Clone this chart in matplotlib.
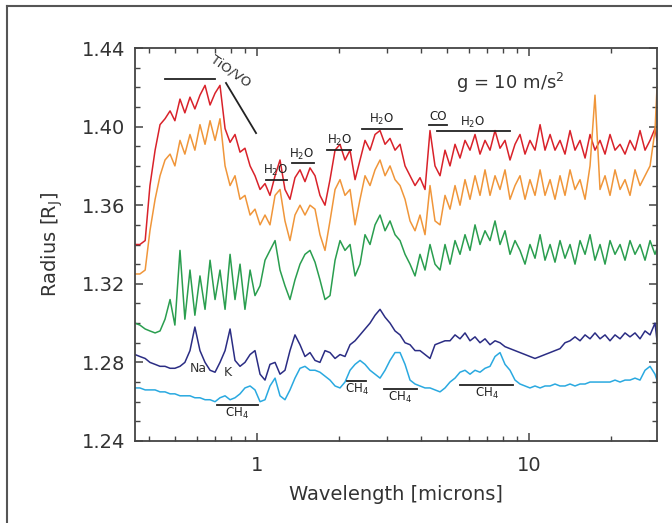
import matplotlib
matplotlib.use('Agg')
import matplotlib.pyplot as plt
from matplotlib.ticker import LogLocator, FixedLocator, NullFormatter, FormatStrFormatter
from matplotlib.lines import Line2D

# wavelength grid in microns (shared by all spectra)
wavelength = [
    0.356, 0.371, 0.388, 0.404, 0.422, 0.440, 0.459, 0.479, 0.499, 0.521,
    0.543, 0.567, 0.591, 0.617, 0.644, 0.672, 0.701, 0.731, 0.763, 0.796,
    0.830, 0.866, 0.903, 0.943, 0.983, 1.026, 1.070, 1.116, 1.165, 1.215,
    1.267, 1.322, 1.379, 1.439, 1.501, 1.566, 1.634, 1.704, 1.778, 1.855,
    1.936, 2.019, 2.106, 2.198, 2.293, 2.392, 2.495, 2.603, 2.716, 2.833,
    2.956, 3.083, 3.217, 3.356, 3.501, 3.652, 3.810, 3.974, 4.146, 4.325,
    4.512, 4.708, 4.911, 5.123, 5.345, 5.576, 5.817, 6.068, 6.331, 6.604,
    6.890, 7.188, 7.499, 7.823, 8.161, 8.514, 8.882, 9.266, 9.667, 10.08,
    10.52, 10.98, 11.45, 11.95, 12.46, 13.00, 13.56, 14.15, 14.76, 15.40,
    16.07, 16.76, 17.48, 18.24, 19.03, 19.85, 20.71, 21.61, 22.54, 23.51,
    24.53, 25.59, 26.70, 27.86, 29.05, 29.55,
]

# radius in Jupiter radii, one list per model
r_red = [
    1.340, 1.340, 1.342, 1.370, 1.388, 1.401, 1.404, 1.408, 1.403, 1.414,
    1.407, 1.415, 1.409, 1.416, 1.421, 1.411, 1.417, 1.421, 1.399, 1.392,
    1.396, 1.387, 1.389, 1.380, 1.375, 1.368, 1.371, 1.365, 1.375, 1.383,
    1.368, 1.363, 1.374, 1.378, 1.372, 1.379, 1.375, 1.365, 1.360, 1.373,
    1.388, 1.391, 1.383, 1.388, 1.373, 1.383, 1.393, 1.388, 1.396, 1.398,
    1.391, 1.394, 1.388, 1.391, 1.380, 1.375, 1.370, 1.374, 1.368, 1.398,
    1.380, 1.375, 1.388, 1.380, 1.391, 1.384, 1.393, 1.388, 1.396, 1.386,
    1.393, 1.388, 1.398, 1.389, 1.393, 1.383, 1.391, 1.396, 1.386, 1.393,
    1.388, 1.401, 1.388, 1.396, 1.388, 1.393, 1.386, 1.398, 1.388, 1.393,
    1.384, 1.396, 1.388, 1.393, 1.386, 1.396, 1.388, 1.391, 1.386, 1.393,
    1.388, 1.398, 1.388, 1.393, 1.399, 1.393,
]
r_orange = [
    1.325, 1.325, 1.327, 1.347, 1.363, 1.375, 1.383, 1.386, 1.380, 1.393,
    1.386, 1.396, 1.388, 1.401, 1.391, 1.403, 1.393, 1.404, 1.380, 1.370,
    1.375, 1.363, 1.365, 1.355, 1.358, 1.350, 1.355, 1.350, 1.365, 1.368,
    1.352, 1.342, 1.355, 1.360, 1.355, 1.360, 1.358, 1.345, 1.337, 1.352,
    1.368, 1.373, 1.365, 1.368, 1.350, 1.363, 1.375, 1.370, 1.378, 1.383,
    1.375, 1.380, 1.373, 1.370, 1.363, 1.352, 1.347, 1.355, 1.345, 1.370,
    1.352, 1.350, 1.365, 1.358, 1.370, 1.360, 1.373, 1.363, 1.375, 1.365,
    1.378, 1.365, 1.375, 1.368, 1.378, 1.363, 1.370, 1.375, 1.363, 1.373,
    1.365, 1.378, 1.365, 1.373, 1.363, 1.375, 1.365, 1.378, 1.368, 1.373,
    1.363, 1.380, 1.416, 1.368, 1.375, 1.365, 1.378, 1.368, 1.373, 1.365,
    1.378, 1.370, 1.375, 1.380, 1.398, 1.420,
]
r_green = [
    1.300, 1.299, 1.297, 1.296, 1.295, 1.296, 1.302, 1.312, 1.299, 1.337,
    1.302, 1.327, 1.304, 1.324, 1.307, 1.332, 1.312, 1.327, 1.307, 1.335,
    1.312, 1.330, 1.307, 1.327, 1.314, 1.319, 1.332, 1.337, 1.342, 1.327,
    1.319, 1.312, 1.322, 1.330, 1.335, 1.337, 1.331, 1.322, 1.312, 1.314,
    1.332, 1.342, 1.337, 1.340, 1.324, 1.330, 1.345, 1.340, 1.350, 1.355,
    1.347, 1.352, 1.345, 1.342, 1.335, 1.330, 1.324, 1.335, 1.327, 1.340,
    1.330, 1.327, 1.340, 1.330, 1.342, 1.335, 1.345, 1.337, 1.350, 1.340,
    1.347, 1.342, 1.352, 1.340, 1.347, 1.335, 1.342, 1.337, 1.330, 1.340,
    1.333, 1.345, 1.332, 1.340, 1.331, 1.342, 1.333, 1.340, 1.330, 1.342,
    1.335, 1.345, 1.332, 1.340, 1.330, 1.342, 1.335, 1.340, 1.332, 1.342,
    1.335, 1.340, 1.332, 1.342, 1.335, 1.338,
]
r_navy = [
    1.284, 1.283, 1.282, 1.280, 1.279, 1.278, 1.278, 1.277, 1.277, 1.278,
    1.280, 1.286, 1.298, 1.286, 1.280, 1.276, 1.275, 1.280, 1.286, 1.297,
    1.281, 1.278, 1.280, 1.284, 1.286, 1.274, 1.271, 1.279, 1.280, 1.274,
    1.276, 1.286, 1.294, 1.289, 1.283, 1.285, 1.281, 1.280, 1.286, 1.285,
    1.282, 1.284, 1.283, 1.289, 1.291, 1.294, 1.297, 1.300, 1.304, 1.307,
    1.303, 1.300, 1.296, 1.294, 1.290, 1.289, 1.286, 1.286, 1.284, 1.282,
    1.289, 1.290, 1.291, 1.291, 1.294, 1.292, 1.295, 1.291, 1.293, 1.290,
    1.292, 1.289, 1.291, 1.290, 1.288, 1.287, 1.286, 1.285, 1.284, 1.283,
    1.282, 1.283, 1.284, 1.285, 1.286, 1.287, 1.290, 1.291, 1.293, 1.291,
    1.294, 1.292, 1.295, 1.292, 1.294, 1.291, 1.294, 1.292, 1.295, 1.293,
    1.295, 1.292, 1.296, 1.294, 1.300, 1.291,
]
r_blue = [
    1.267, 1.267, 1.266, 1.266, 1.266, 1.265, 1.265, 1.264, 1.264, 1.263,
    1.263, 1.263, 1.262, 1.262, 1.261, 1.261, 1.260, 1.262, 1.263, 1.261,
    1.262, 1.264, 1.267, 1.268, 1.266, 1.260, 1.261, 1.268, 1.272, 1.263,
    1.261, 1.266, 1.272, 1.277, 1.278, 1.276, 1.276, 1.275, 1.273, 1.271,
    1.268, 1.267, 1.270, 1.276, 1.279, 1.281, 1.279, 1.276, 1.274, 1.272,
    1.276, 1.281, 1.285, 1.285, 1.279, 1.271, 1.269, 1.268, 1.267, 1.267,
    1.266, 1.265, 1.267, 1.270, 1.272, 1.275, 1.276, 1.274, 1.276, 1.275,
    1.277, 1.278, 1.283, 1.285, 1.279, 1.276, 1.271, 1.269, 1.268, 1.267,
    1.268, 1.267, 1.268, 1.268, 1.269, 1.268, 1.268, 1.269, 1.268, 1.269,
    1.269, 1.270, 1.270, 1.270, 1.270, 1.270, 1.271, 1.270, 1.271, 1.271,
    1.272, 1.271, 1.276, 1.278, 1.274, 1.271,
]

series = [
    (r_red, '#d9222a'),
    (r_orange, '#f0963a'),
    (r_green, '#2a9e4f'),
    (r_navy, '#2b2d84'),
    (r_blue, '#2aa9e0'),
]

# molecule bands: (label, x_start, x_end, y_bar, x_text, y_text)
bands = [
    (r'H$_2$O', 1.079, 1.289, 1.3730, 1.175, 1.3775),
    (r'H$_2$O', 1.345, 1.620, 1.3814, 1.464, 1.3860),
    (r'H$_2$O', 1.810, 2.210, 1.3880, 2.020, 1.3930),
    (r'H$_2$O', 2.430, 3.410, 1.3990, 2.860, 1.4035),
    (r'CO', 4.290, 4.990, 1.4010, 4.630, 1.4050),
    (r'H$_2$O', 4.590, 8.510, 1.3980, 6.220, 1.4020),
    (r'CH$_4$', 0.713, 1.009, 1.2583, 0.844, 1.2540),
    (r'CH$_4$', 2.140, 2.520, 1.2705, 2.330, 1.2660),
    (r'CH$_4$', 2.930, 3.870, 1.2664, 3.360, 1.2620),
    (r'CH$_4$', 5.580, 8.750, 1.2684, 7.000, 1.2640),
]

fig = plt.figure(figsize=(6.72, 5.23), dpi=100)
ax = fig.add_axes([0.2009, 0.1568, 0.7768, 0.7514])

for vals, col in series:
    ax.plot(wavelength, vals, color=col, lw=1.1)

ax.set_xscale('log')
ax.set_xlim(0.356, 29.55)
ax.set_ylim(1.24, 1.44)

ax.xaxis.set_major_locator(FixedLocator([1, 10]))
ax.xaxis.set_major_formatter(FormatStrFormatter('%d'))
ax.xaxis.set_minor_locator(LogLocator(base=10, subs=range(2, 10)))
ax.xaxis.set_minor_formatter(NullFormatter())
ax.yaxis.set_major_locator(FixedLocator([1.24, 1.28, 1.32, 1.36, 1.40, 1.44]))
ax.yaxis.set_major_formatter(FormatStrFormatter('%.2f'))
ax.yaxis.set_minor_locator(FixedLocator([1.25, 1.26, 1.27, 1.29, 1.30, 1.31, 1.33, 1.34, 1.35,
                                         1.37, 1.38, 1.39, 1.41, 1.42, 1.43]))
ax.tick_params(which='both', direction='in', top=True, right=True, color='#444444')
ax.tick_params(which='major', length=6, width=1.1, labelsize=14, labelcolor='#333333', pad=7)
ax.tick_params(axis='x', which='major', pad=11)
ax.tick_params(which='minor', length=3.5, width=1.0)
for s in ax.spines.values():
    s.set_color('#444444')
    s.set_linewidth(1.3)

ax.set_xlabel('Wavelength [microns]', fontsize=14, color='#333333', labelpad=7)
ax.set_ylabel(r'Radius [R$_\mathregular{J}$]', fontsize=14, color='#333333', labelpad=12)

# TiO/VO marker
ax.plot([0.459, 0.701], [1.4242, 1.4242], color='#222222', lw=1.3)
ax.plot([0.769, 0.992], [1.4222, 1.3967], color='#222222', lw=1.3)
ax.text(0.80, 1.4285, 'TiO/VO', fontsize=9.5, rotation=-35, ha='center', va='center', color='#333333')

for lab, x0, x1, yb, xt, yt in bands:
    ax.plot([x0, x1], [yb, yb], color='#222222', lw=1.3)
    ax.text(xt, yt, lab, fontsize=8.5, ha='center', va='center', color='#222222')

ax.text(0.607, 1.2770, 'Na', fontsize=9, ha='center', va='center', color='#333333')
ax.text(0.782, 1.2750, 'K', fontsize=9, ha='center', va='center', color='#333333')
ax.text(8.51, 1.4220, r'g = 10 m/s$^2$', fontsize=13, ha='center', va='center', color='#333333')

# outer frame around the panel
fig.add_artist(Line2D([0.0104, 0.0104], [0.0, 0.9885], transform=fig.transFigure, color='#555555', lw=1.5))
fig.add_artist(Line2D([0.0104, 1.0], [0.9885, 0.9885], transform=fig.transFigure, color='#555555', lw=1.5))

fig.savefig('out.png', dpi=100)
